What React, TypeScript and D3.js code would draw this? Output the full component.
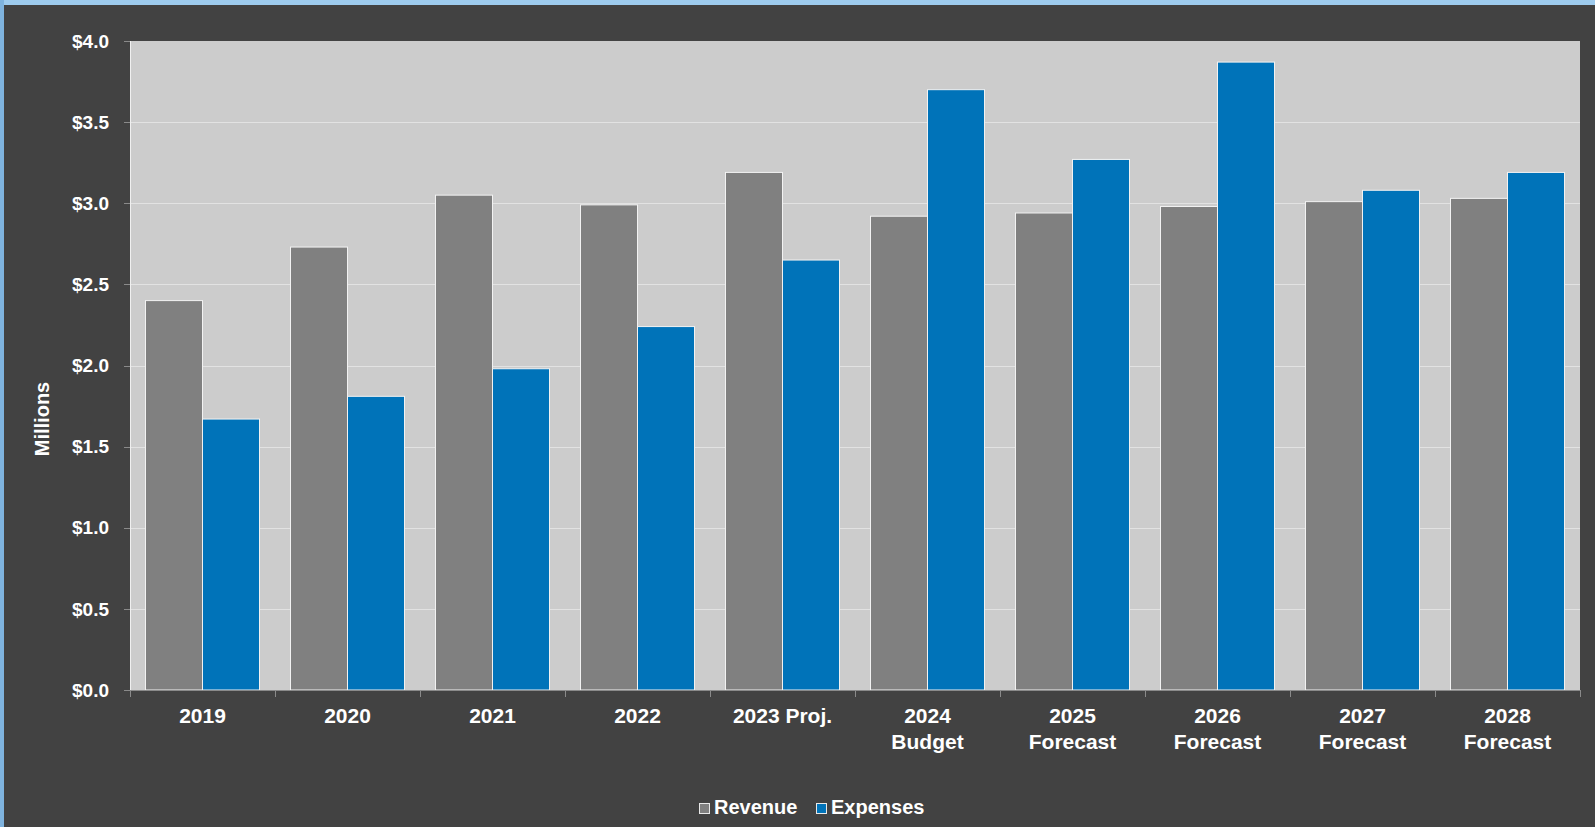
import { useRef, useEffect } from 'react'
import * as d3 from 'd3'

const categories = [
  ['2019'],
  ['2020'],
  ['2021'],
  ['2022'],
  ['2023 Proj.'],
  ['2024', 'Budget'],
  ['2025', 'Forecast'],
  ['2026', 'Forecast'],
  ['2027', 'Forecast'],
  ['2028', 'Forecast'],
]
const revenue = [2.40, 2.73, 3.05, 2.99, 3.19, 2.92, 2.94, 2.98, 3.01, 3.03]
const expenses = [1.67, 1.81, 1.98, 2.24, 2.65, 3.70, 3.27, 3.87, 3.08, 3.19]
const seriesNames = ['Revenue', 'Expenses']
const yTicks = [0, 0.5, 1, 1.5, 2, 2.5, 3, 3.5, 4]

const W = 1595
const H = 827
const FONT = '"Liberation Sans", Arial, sans-serif'

export default function App() {
  const svgRef = useRef<SVGSVGElement>(null)

  useEffect(() => {
    if (!svgRef.current) return
    const svg = d3.select(svgRef.current)
    svg.selectAll('*').remove()

    const colors = ['#808080', '#0073b9']
    const margin = { top: 41, right: 15, bottom: 137, left: 130 }
    const innerW = W - margin.left - margin.right
    const innerH = H - margin.top - margin.bottom

    // background and window frame
    svg.append('rect').attr('width', W).attr('height', H).attr('fill', '#424242')
    svg.append('rect').attr('width', W).attr('height', 5).attr('fill', '#9ecbee')
    svg.append('rect').attr('width', 4).attr('height', H).attr('fill', '#7fb3de')

    const x = d3.scaleBand()
      .domain(categories.map((_, i) => String(i)))
      .range([0, innerW])
      .paddingInner(0)
      .paddingOuter(0)
    const x1 = d3.scaleBand()
      .domain(seriesNames)
      .range([0, x.bandwidth()])
      .paddingOuter(0.272)
      .paddingInner(0)
    const y = d3.scaleLinear().domain([0, 4]).range([innerH, 0])

    const g = svg.append('g').attr('transform', `translate(${margin.left},${margin.top})`)

    g.append('rect').attr('width', innerW).attr('height', innerH).attr('fill', '#cccccc')

    // gridlines
    g.selectAll('line.grid')
      .data(yTicks.filter(t => t > 0 && t < 4))
      .join('line')
      .attr('x1', 0).attr('x2', innerW)
      .attr('y1', d => Math.round(y(d)) + 0.5).attr('y2', d => Math.round(y(d)) + 0.5)
      .attr('stroke', '#e2e2e2').attr('stroke-width', 1)

    // bars
    const groups = g.selectAll('g.cat')
      .data(categories.map((_, i) => i))
      .join('g')
      .attr('transform', i => `translate(${x(String(i))},0)`)

    groups.selectAll('rect')
      .data(i => [revenue[i], expenses[i]].map((v, k) => ({ v, k })))
      .join('rect')
      .attr('x', d => x1(seriesNames[d.k])!)
      .attr('width', x1.bandwidth())
      .attr('y', d => y(d.v))
      .attr('height', d => innerH - y(d.v))
      .attr('fill', d => colors[d.k])
      .attr('stroke', '#f2f2f2')
      .attr('stroke-width', 1)

    // axes lines
    g.append('line')
      .attr('x1', 0.5).attr('x2', 0.5).attr('y1', 0).attr('y2', innerH)
      .attr('stroke', '#f0f0f0')
    g.append('line')
      .attr('x1', 0).attr('x2', innerW).attr('y1', innerH + 0.5).attr('y2', innerH + 0.5)
      .attr('stroke', '#8a8a8a')

    // y ticks
    g.selectAll('line.ytick')
      .data(yTicks)
      .join('line')
      .attr('x1', -6).attr('x2', 0)
      .attr('y1', d => Math.round(y(d)) + 0.5).attr('y2', d => Math.round(y(d)) + 0.5)
      .attr('stroke', '#8a8a8a')

    g.selectAll('text.ylab')
      .data(yTicks)
      .join('text')
      .attr('x', -21)
      .attr('y', d => y(d))
      .attr('dy', '0.35em')
      .attr('text-anchor', 'end')
      .attr('fill', '#ffffff')
      .attr('font-family', FONT)
      .attr('font-weight', 'bold')
      .attr('font-size', 19)
      .text(d => `$${d.toFixed(1)}`)

    // x ticks
    g.selectAll('line.xtick')
      .data(d3.range(categories.length + 1))
      .join('line')
      .attr('x1', i => Math.round(i * x.step()) + 0.5)
      .attr('x2', i => Math.round(i * x.step()) + 0.5)
      .attr('y1', innerH).attr('y2', innerH + 7)
      .attr('stroke', '#8a8a8a')

    const xl = g.selectAll('text.xlab')
      .data(categories.map((c, i) => ({ c, i })))
      .join('text')
      .attr('text-anchor', 'middle')
      .attr('fill', '#ffffff')
      .attr('font-family', FONT)
      .attr('font-weight', 'bold')
      .attr('font-size', 21)
      .attr('transform', d => `translate(${x(String(d.i))! + x.bandwidth() / 2},${innerH + 33})`)
    xl.selectAll('tspan')
      .data(d => d.c.map((t, j) => ({ t, j })))
      .join('tspan')
      .attr('x', 0)
      .attr('y', d => d.j * 26)
      .text(d => d.t)

    // y axis title
    svg.append('text')
      .attr('transform', `translate(49,419) rotate(-90)`)
      .attr('text-anchor', 'middle')
      .attr('fill', '#ffffff')
      .attr('font-family', FONT)
      .attr('font-weight', 'bold')
      .attr('font-size', 20)
      .text('Millions')

    // legend
    const legendX = [699, 816]
    const leg = svg.selectAll('g.leg')
      .data(seriesNames)
      .join('g')
      .attr('transform', (_, k) => `translate(${legendX[k]},803)`)
    leg.append('rect')
      .attr('x', 0.5).attr('y', 0.5)
      .attr('width', 10).attr('height', 10)
      .attr('fill', (_, k) => colors[k])
      .attr('stroke', '#e8e8e8')
    leg.append('text')
      .attr('x', 15)
      .attr('y', 11)
      .attr('fill', '#ffffff')
      .attr('font-family', FONT)
      .attr('font-weight', 'bold')
      .attr('font-size', 20)
      .text(d => d)
  }, [])

  return (
    <svg
      ref={svgRef}
      width={W}
      height={H}
      style={{ position: 'absolute', left: 0, top: 0, display: 'block' }}
    />
  )
}
